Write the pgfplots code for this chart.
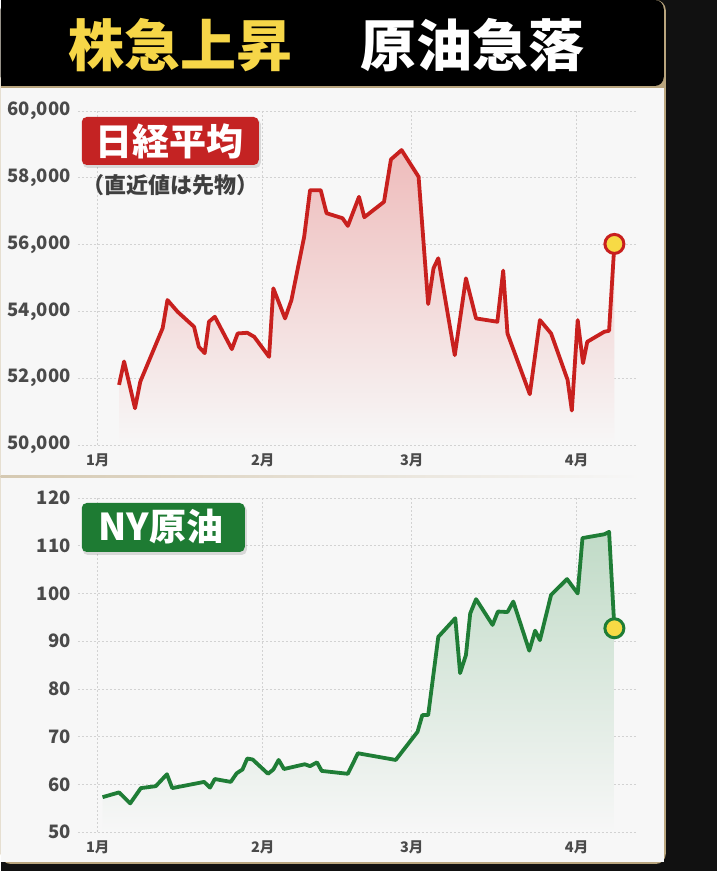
\documentclass[border=0pt]{standalone}
\usepackage{pgfplots}
\pgfplotsset{compat=1.18}
\usepackage{fontspec}
\setmainfont{Noto Sans CJK JP}
\definecolor{darkbg}{HTML}{111111}
\definecolor{gold}{HTML}{B9A57E}
\definecolor{cardbg}{HTML}{F7F7F7}
\definecolor{gridc}{HTML}{D2D2D2}
\definecolor{tickc}{HTML}{4A4A4A}
\definecolor{nred}{HTML}{C8201E}
\definecolor{boxred}{HTML}{C42323}
\definecolor{ngreen}{HTML}{1F7D36}
\definecolor{boxgreen}{HTML}{1E7B33}
\definecolor{dotyel}{HTML}{F7DA45}
\definecolor{titleyel}{HTML}{F6D648}
\pgfplotsset{
  common/.style={
    scale only axis, width=559pt, height=334pt,
    xmin=-3.76, xmax=101.3,
    xtick={0,31,59,90}, xticklabels={1月,2月,3月,4月},
    grid=major, major grid style={dash pattern=on 2pt off 2pt, line width=0.6pt, color=gridc},
    axis line style={draw=none}, tick style={draw=none},
    /pgf/number format/assume math mode=true,
    /pgf/number format/1000 sep={,},
    scaled y ticks=false,
    yticklabel style={font=\fontsize{18.5}{18.5}\selectfont\bfseries, text=tickc, anchor=east, inner sep=0pt, xshift=-7pt},
    xticklabel style={font=\fontsize{14.5}{14.5}\selectfont\bfseries, text=tickc, anchor=north, inner sep=0pt, yshift=-9pt},
    clip=false,
  }
}
\begin{document}
\begin{tikzpicture}
% backgrounds
\fill[darkbg] (0pt,0pt) rectangle (716pt,871pt);
\fill[gold, rounded corners=10pt] (0pt,7pt) -- (665pt,7pt) -- (665pt,871pt) -- (0pt,871pt) -- cycle;
\fill[cardbg] (0pt,9pt) rectangle (663pt,783pt);
\fill[black, rounded corners=9pt] (0pt,785pt) -- (663pt,785pt) -- (663pt,871pt) -- (0pt,871pt) -- cycle;
\fill[black] (0pt,785pt) rectangle (20pt,871pt);
\draw[line width=1.5pt, color=gold] (0pt,783.5pt) -- (663pt,783.5pt);
\shade[left color=gold!60!white, right color=cardbg] (0pt,393.5pt) rectangle (640pt,395pt);
% title
\node[font=\fontsize{56}{56}\selectfont\bfseries, text=titleyel] at (180pt,826pt) {株急上昇};
\node[font=\fontsize{56}{56}\selectfont\bfseries, text=white] at (472pt,826pt) {原油急落};

% top axis
\begin{axis}[common, at={(77pt,426pt)}, anchor=south west,
  ymin=50000, ymax=60000, ytick={50000,52000,...,60000}]
\addplot[draw=none, shade, top color=nred!30!white, bottom color=cardbg] coordinates {
(4.0,51800) (4.95,52500) (7.0,51100) (8.0,51900) (12.2,53500) (13.1,54340) (15.0,53990) (18.1,53540) (19.0,52940) (20.1,52750) (20.9,53690) (22.0,53840) (25.2,52870) (26.3,53340) (28.1,53360) (29.4,53240) (32.2,52640) (33.0,54690) (35.2,53790) (36.4,54340) (38.8,56240) (39.9,57630) (41.9,57630) (43.0,56940) (46.0,56790) (47.0,56560) (49.1,57430) (50.1,56820) (53.8,57280) (55.1,58550) (57.1,58830) (60.3,58030) (62.1,54220) (63.1,55290) (64.0,55590) (67.1,52690) (69.2,54990) (71.1,53790) (75.1,53690) (76.2,55220) (77.0,53340) (81.2,51520) (83.1,53740) (85.2,53340) (88.3,51950) (89.1,51030) (90.2,53740) (91.2,52450) (92.0,53090) (95.2,53390) (96.1,53420) (97.1,56020)
} \closedcycle;
\addplot[nred, line width=3.8pt, line join=round] coordinates {
(4.0,51800) (4.95,52500) (7.0,51100) (8.0,51900) (12.2,53500) (13.1,54340) (15.0,53990) (18.1,53540) (19.0,52940) (20.1,52750) (20.9,53690) (22.0,53840) (25.2,52870) (26.3,53340) (28.1,53360) (29.4,53240) (32.2,52640) (33.0,54690) (35.2,53790) (36.4,54340) (38.8,56240) (39.9,57630) (41.9,57630) (43.0,56940) (46.0,56790) (47.0,56560) (49.1,57430) (50.1,56820) (53.8,57280) (55.1,58550) (57.1,58830) (60.3,58030) (62.1,54220) (63.1,55290) (64.0,55590) (67.1,52690) (69.2,54990) (71.1,53790) (75.1,53690) (76.2,55220) (77.0,53340) (81.2,51520) (83.1,53740) (85.2,53340) (88.3,51950) (89.1,51030) (90.2,53740) (91.2,52450) (92.0,53090) (95.2,53390) (96.1,53420) (97.1,56020)
};
\addplot[only marks, mark=*, mark size=9.5pt, mark options={fill=dotyel, draw=nred, line width=3pt}] coordinates {(97.1,56020)};
\end{axis}

% bottom axis
\begin{axis}[common, at={(77pt,39pt)}, anchor=south west,
  ymin=50, ymax=120, ytick={50,60,...,120}]
\addplot[draw=none, shade, top color=ngreen!28!white, bottom color=cardbg] coordinates {
(0.9,57.3) (4.0,58.3) (6.1,56.0) (8.1,59.2) (10.9,59.6) (13.0,62.1) (14.0,59.2) (20.0,60.5) (21.1,59.3) (22.0,61.1) (25.0,60.5) (26.1,62.3) (27.2,63.1) (28.1,65.4) (29.1,65.2) (32.0,62.2) (33.0,63.1) (34.0,65.1) (35.0,63.2) (38.9,64.2) (39.9,63.8) (41.2,64.6) (42.1,62.8) (47.0,62.2) (48.9,66.5) (56.0,65.1) (60.1,71.0) (61.0,74.5) (62.1,74.5) (64.0,90.9) (67.2,94.8) (68.1,83.3) (69.2,87.1) (70.0,95.8) (71.1,98.8) (74.2,93.4) (75.2,96.2) (77.0,96.1) (78.1,98.3) (81.1,88.0) (82.2,92.2) (83.1,90.2) (85.2,99.7) (88.2,103.0) (90.2,100.0) (91.1,111.6) (95.2,112.4) (96.1,112.9) (97.1,92.7)
} \closedcycle;
\addplot[ngreen, line width=3.8pt, line join=round] coordinates {
(0.9,57.3) (4.0,58.3) (6.1,56.0) (8.1,59.2) (10.9,59.6) (13.0,62.1) (14.0,59.2) (20.0,60.5) (21.1,59.3) (22.0,61.1) (25.0,60.5) (26.1,62.3) (27.2,63.1) (28.1,65.4) (29.1,65.2) (32.0,62.2) (33.0,63.1) (34.0,65.1) (35.0,63.2) (38.9,64.2) (39.9,63.8) (41.2,64.6) (42.1,62.8) (47.0,62.2) (48.9,66.5) (56.0,65.1) (60.1,71.0) (61.0,74.5) (62.1,74.5) (64.0,90.9) (67.2,94.8) (68.1,83.3) (69.2,87.1) (70.0,95.8) (71.1,98.8) (74.2,93.4) (75.2,96.2) (77.0,96.1) (78.1,98.3) (81.1,88.0) (82.2,92.2) (83.1,90.2) (85.2,99.7) (88.2,103.0) (90.2,100.0) (91.1,111.6) (95.2,112.4) (96.1,112.9) (97.1,92.7)
};
\addplot[only marks, mark=*, mark size=9.5pt, mark options={fill=dotyel, draw=ngreen, line width=3pt}] coordinates {(97.1,92.7)};
\end{axis}

% label boxes
\fill[black, opacity=0.12, rounded corners=5pt] (82pt,703pt) rectangle (260pt,752pt);
\fill[boxred, rounded corners=5pt] (81pt,706pt) rectangle (258pt,754pt);
\node[font=\fontsize{37}{37}\selectfont\bfseries, text=white] at (169pt,730pt) {日経平均};
\node[font=\fontsize{22}{22}\selectfont\bfseries, text=tickc!85!black] at (170pt,686pt) {（直近値は先物）};
\fill[black, opacity=0.12, rounded corners=5pt] (82pt,316pt) rectangle (246pt,366pt);
\fill[boxgreen, rounded corners=5pt] (81pt,319pt) rectangle (244pt,368pt);
\node[font=\fontsize{37}{37}\selectfont\bfseries, text=white] at (160pt,344pt) {NY原油};
\end{tikzpicture}
\end{document}
